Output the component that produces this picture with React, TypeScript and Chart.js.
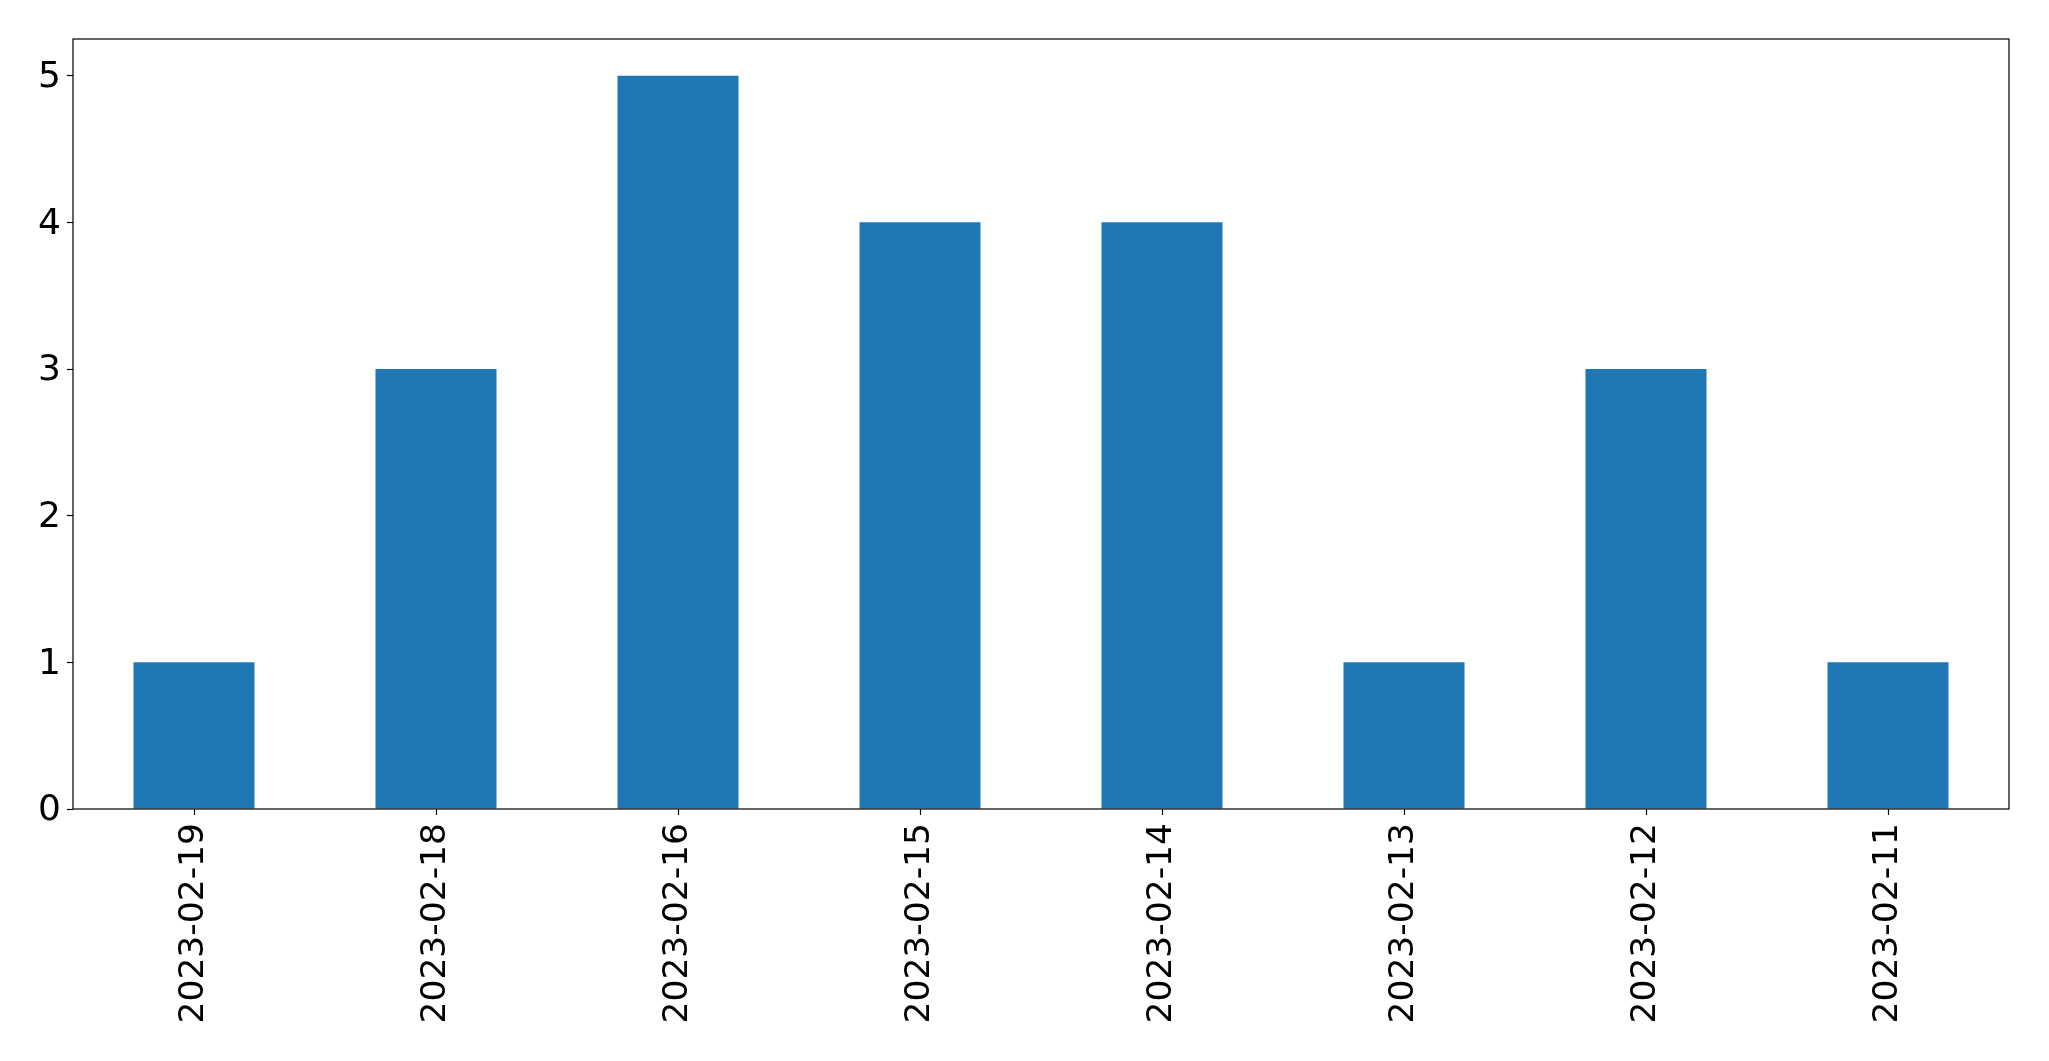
import React, { useEffect, useRef } from "react";
import { Chart, registerables } from "chart.js";

Chart.register(...registerables);

const categories = [
  "2023-02-19",
  "2023-02-18",
  "2023-02-16",
  "2023-02-15",
  "2023-02-14",
  "2023-02-13",
  "2023-02-12",
  "2023-02-11",
];
const counts = [1, 3, 5, 4, 4, 1, 3, 1];
const yTicks = [0, 1, 2, 3, 4, 5];

const W = 2049;
const H = 1061;

const frame = {
  id: "frame",
  afterDatasetsDraw(chart: any) {
    const { ctx, chartArea } = chart;
    ctx.save();
    ctx.strokeStyle = "#000";
    ctx.lineWidth = 1.2;
    ctx.strokeRect(chartArea.left, chartArea.top, chartArea.right - chartArea.left, chartArea.bottom - chartArea.top);
    ctx.restore();
  },
};

export default function App() {
  const ref = useRef<HTMLCanvasElement | null>(null);
  useEffect(() => {
    document.body.style.margin = "0";
    const chart = new Chart(ref.current as HTMLCanvasElement, {
      type: "bar",
      data: {
        labels: categories,
        datasets: [
          {
            data: counts,
            backgroundColor: "#1f77b4",
            categoryPercentage: 1,
            barPercentage: 0.5,
          },
        ],
      },
      options: {
        animation: false,
        responsive: false,
        devicePixelRatio: 1,
        layout: { padding: { top: 39, right: 40, left: 0, bottom: 0 } },
        plugins: { legend: { display: false }, tooltip: { enabled: false } },
        scales: {
          x: {
            offset: true,
            grid: { display: true, offset: false, drawOnChartArea: false, tickLength: 6, color: "#000", tickWidth: 1.2 },
            border: { display: false },
            ticks: {
              color: "#000",
              font: { family: "DejaVu Sans", size: 34.5 },
              minRotation: 90,
              maxRotation: 90,
              padding: 8,
            },
            afterFit(scale: any) {
              scale.height = H - 809;
            },
          },
          y: {
            min: 0,
            max: 5.25,
            grid: { display: true, drawOnChartArea: false, tickLength: 6, color: "#000", tickWidth: 1.2 },
            border: { display: false },
            ticks: {
              stepSize: 1,
              includeBounds: false,
              color: "#000",
              font: { family: "DejaVu Sans", size: 36 },
              padding: 6,
              labelOffset: 2,
            },
            afterBuildTicks(scale: any) {
              scale.ticks = yTicks.map((v) => ({ value: v }));
            },
            afterFit(scale: any) {
              scale.width = 73;
            },
          },
        },
      },
      plugins: [frame],
    });
    return () => chart.destroy();
  }, []);
  return (
    <div style={{ width: W, height: H, background: "#fff" }}>
      <canvas ref={ref} width={W} height={H} style={{ display: "block" }} />
    </div>
  );
}
